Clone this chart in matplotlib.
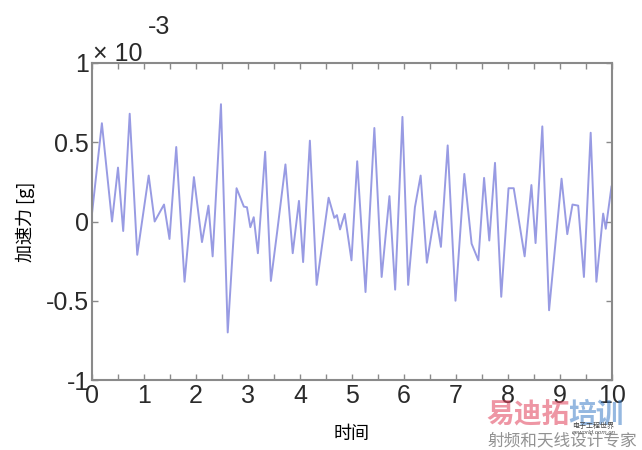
import matplotlib
matplotlib.use("Agg")
import matplotlib.pyplot as plt
from matplotlib.ticker import MultipleLocator

plt.rcParams['font.family'] = ['Liberation Sans', 'Noto Sans CJK SC', 'DejaVu Sans']

# time (s) and acceleration (x1e-3 g) (extrema and shoulders)
t = [0.00, 0.19, 0.385, 0.50, 0.60, 0.725, 0.87, 1.09, 1.205, 1.385, 1.49, 1.62, 1.78,
     1.96, 2.115, 2.24, 2.32, 2.48, 2.61, 2.78, 2.92, 2.98, 3.045, 3.11, 3.19, 3.33,
     3.44, 3.56, 3.72, 3.86, 3.98, 4.06, 4.19, 4.32, 4.55, 4.66, 4.71, 4.77, 4.86,
     4.99, 5.10, 5.26, 5.43, 5.57, 5.72, 5.83, 5.97, 6.08, 6.21, 6.32, 6.44, 6.60,
     6.71, 6.84, 6.99, 7.16, 7.30, 7.43, 7.54, 7.64, 7.75, 7.87, 8.01, 8.11, 8.32,
     8.45, 8.53, 8.66, 8.79, 9.03, 9.14, 9.24, 9.35, 9.46, 9.59, 9.70, 9.83, 9.88, 9.99]
accel = [0.05, 0.62, 0.00, 0.34, -0.06, 0.68, -0.21, 0.29, 0.00, 0.107, -0.11, 0.47, -0.38,
         0.28, -0.13, 0.10, -0.22, 0.74, -0.70, 0.21, 0.094, 0.09, -0.036, 0.027, -0.20, 0.44,
         -0.375, -0.067, 0.36, -0.20, 0.13, -0.256, 0.51, -0.40, 0.15, 0.023, 0.04, -0.05, 0.048,
         -0.245, 0.38, -0.445, 0.59, -0.35, 0.16, -0.43, 0.66, -0.40, 0.09, 0.29, -0.26, 0.065,
         -0.16, 0.48, -0.50, 0.30, -0.14, -0.245, 0.275, -0.12, 0.37, -0.475, 0.21, 0.21, -0.22,
         0.23, -0.136, 0.60, -0.56, 0.27, -0.08, 0.107, 0.10, -0.35, 0.56, -0.38, 0.05, -0.046, 0.22]

xticks = list(range(0, 11))
yticks = [-1, -0.5, 0, 0.5, 1]
ytick_labels = ['-1', '-0.5', '0', '0.5', '1']

fig = plt.figure(figsize=(6.42, 4.5), dpi=100)
ax = fig.add_axes([92/642, 1-380/450, 520/642, 317/450])

ax.plot(t, accel, color='#7f82dc', lw=1.4, alpha=0.8, solid_joinstyle='round')

ax.set_xlim(0, 10)
ax.set_ylim(-1, 1)
ax.set_xticks(xticks)
ax.set_xticklabels([str(v) for v in xticks])
ax.xaxis.set_minor_locator(MultipleLocator(0.5))
ax.set_yticks(yticks)
ax.set_yticklabels(ytick_labels)

for s in ax.spines.values():
    s.set_color('#8a8a8a')
    s.set_linewidth(1.5)
ax.tick_params(which='both', direction='in', top=True, right=True, length=4,
               width=1, color='#8a8a8a', labelsize=18, labelcolor='#2a2a2a')
ax.tick_params(axis='x', pad=3)
ax.tick_params(axis='y', pad=2)

ax.set_xlabel('时间', fontsize=13, family=['Noto Sans CJK SC'], labelpad=12)
ax.set_ylabel('加速力 [g]', fontsize=13, family=['Noto Sans CJK SC', 'DejaVu Sans'], labelpad=8)

# exponent annotation
fig.text(93/642, 1-61/450, '× 10', fontsize=18, color='#2a2a2a', ha='left', va='baseline')
fig.text(148/642, 1-34/450, '-3', fontsize=18, color='#2a2a2a', ha='left', va='baseline')

# watermark
fig.text(486/642, 1-423/450, '易迪拓', fontsize=20, color='#e0405a', alpha=0.55,
         family=['Noto Sans CJK SC'], fontweight='bold', ha='left', va='baseline')
fig.text(568/642, 1-423/450, '培训', fontsize=20, color='#3f7fc8', alpha=0.55,
         family=['Noto Sans CJK SC'], fontweight='bold', ha='left', va='baseline')
fig.text(488/642, 1-445/450, '射频和天线设计专家', fontsize=12, color='#777777', alpha=0.8,
         family=['Noto Sans CJK SC'], ha='left', va='baseline')
fig.text(572/642, 1-428/450, '电子工程世界', fontsize=5, color='#444444',
         family=['Noto Sans CJK SC'], ha='left', va='baseline')
fig.text(572/642, 1-434/450, 'eeworld.com.cn', fontsize=4.5, color='#555555',
         style='italic', ha='left', va='baseline')

fig.savefig('out.png', dpi=100, facecolor='white')
